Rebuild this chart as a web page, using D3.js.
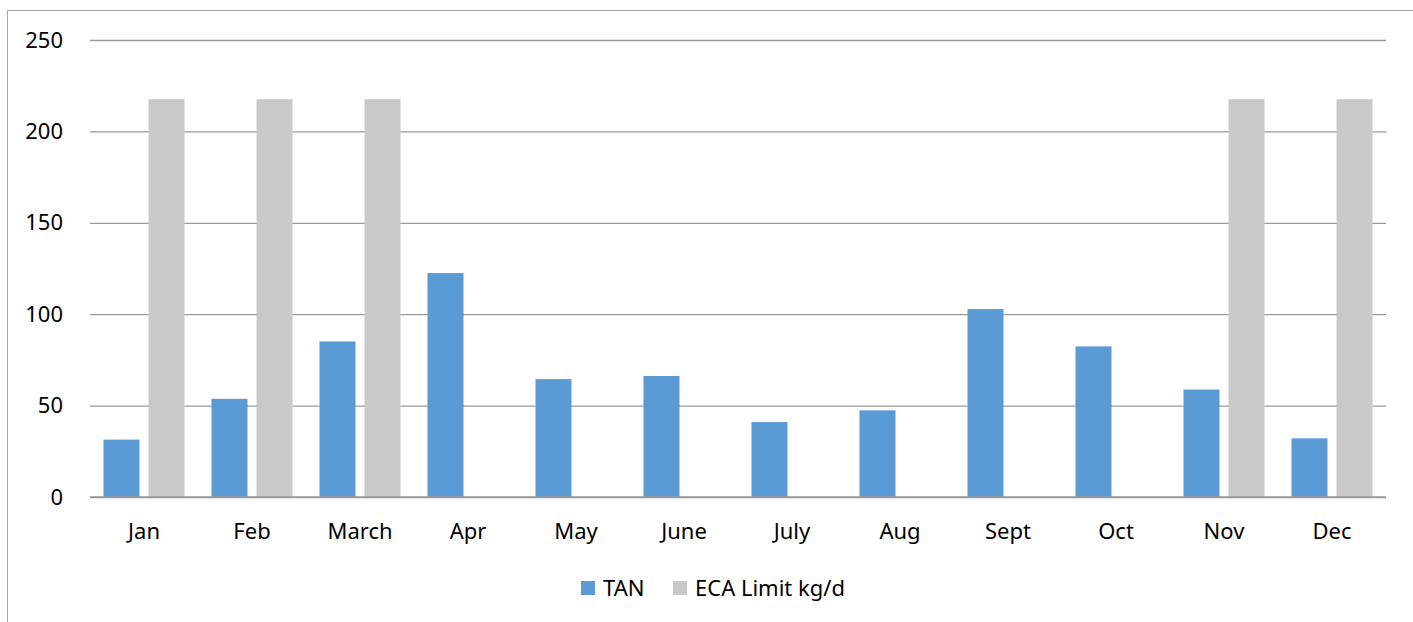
<!DOCTYPE html>
<html>
<head>
<meta charset="utf-8">
<script src="https://cdn.jsdelivr.net/npm/d3@7"></script>
<style>
  body { margin: 0; background: #fff; }
  svg { display: block; font-family: "Noto Sans", "Open Sans", sans-serif; }
</style>
</head>
<body>
<svg id="chart"></svg>
<script>
const months = ["Jan", "Feb", "March", "Apr", "May", "June", "July", "Aug", "Sept", "Oct", "Nov", "Dec"];
const tan = [31.4, 53.7, 85.1, 122.5, 64.5, 66.2, 41, 47.4, 102.8, 82.4, 58.8, 32.1];
const ecaLimit = [217.6, 217.6, 217.6, null, null, null, null, null, null, null, 217.6, 217.6];
const seriesNames = ["TAN", "ECA Limit kg/d"];
const yTicks = [0, 50, 100, 150, 200, 250];

const width = 1413, height = 622;
const margin = {top: 40, right: 27, bottom: 125, left: 90};
const colors = {"TAN": "#5b9bd5", "ECA Limit kg/d": "#c9c9c9"};
const fontSize = 22;

let svg = d3.select("#chart")
  .attr("width", width)
  .attr("height", height);

// outer chart frame (runs off the right/bottom edge)
svg.append("rect")
  .attr("x", 7.5).attr("y", 10.5)
  .attr("width", width + 10).attr("height", height + 10)
  .attr("fill", "none")
  .attr("stroke", "#a6a6a6");

let x = d3.scaleBand()
  .domain(months)
  .range([margin.left, width - margin.right])
  .paddingInner(0.25)
  .paddingOuter(0.125);

let x1 = d3.scaleBand()
  .domain(seriesNames)
  .range([0, x.bandwidth()])
  .paddingInner(0.2);

let y = d3.scaleLinear()
  .domain([0, 250])
  .range([height - margin.bottom, margin.top]);

// gridlines
let yAxis = svg.append("g")
  .attr("transform", `translate(${margin.left},0)`)
  .call(d3.axisLeft(y).tickValues(yTicks).tickSize(-(width - margin.left - margin.right)).tickPadding(27))
  .attr("font-family", null);
yAxis.select(".domain").remove();
yAxis.selectAll(".tick line").attr("stroke", "#9a9a9a").attr("stroke-width", 1.3);
yAxis.selectAll(".tick text").attr("font-size", fontSize).attr("fill", "#000");

let data = months.map((m, i) => ({month: m, values: [
  {key: "TAN", value: tan[i]},
  {key: "ECA Limit kg/d", value: ecaLimit[i]}
]}));

let groups = svg.append("g").selectAll("g")
  .data(data)
  .join("g")
  .attr("transform", d => `translate(${x(d.month)},0)`);

groups.selectAll("rect")
  .data(d => d.values.filter(v => v.value != null))
  .join("rect")
  .attr("x", d => x1(d.key))
  .attr("width", x1.bandwidth())
  .attr("y", d => y(d.value))
  .attr("height", d => y(0) - y(d.value))
  .attr("fill", d => colors[d.key]);

// baseline
svg.append("line")
  .attr("x1", margin.left).attr("x2", width - margin.right)
  .attr("y1", y(0)).attr("y2", y(0))
  .attr("stroke", "#9a9a9a").attr("stroke-width", 1.3);

// x labels
let xAxis = svg.append("g")
  .attr("transform", `translate(0,${y(0)})`)
  .call(d3.axisBottom(x).tickSize(0).tickPadding(26))
  .attr("font-family", null);
xAxis.select(".domain").remove();
xAxis.selectAll(".tick text").attr("font-size", fontSize).attr("fill", "#000");

// legend
let legendItems = [
  {name: "TAN", x: 581},
  {name: "ECA Limit kg/d", x: 673}
];
let legend = svg.append("g").selectAll("g")
  .data(legendItems)
  .join("g")
  .attr("transform", d => `translate(${d.x},581)`);
legend.append("rect")
  .attr("width", 14).attr("height", 14)
  .attr("fill", d => colors[d.name]);
legend.append("text")
  .attr("x", 22).attr("y", 7)
  .attr("dy", "0.36em")
  .attr("font-size", fontSize)
  .attr("fill", "#000")
  .text(d => d.name);
</script>
</body>
</html>
